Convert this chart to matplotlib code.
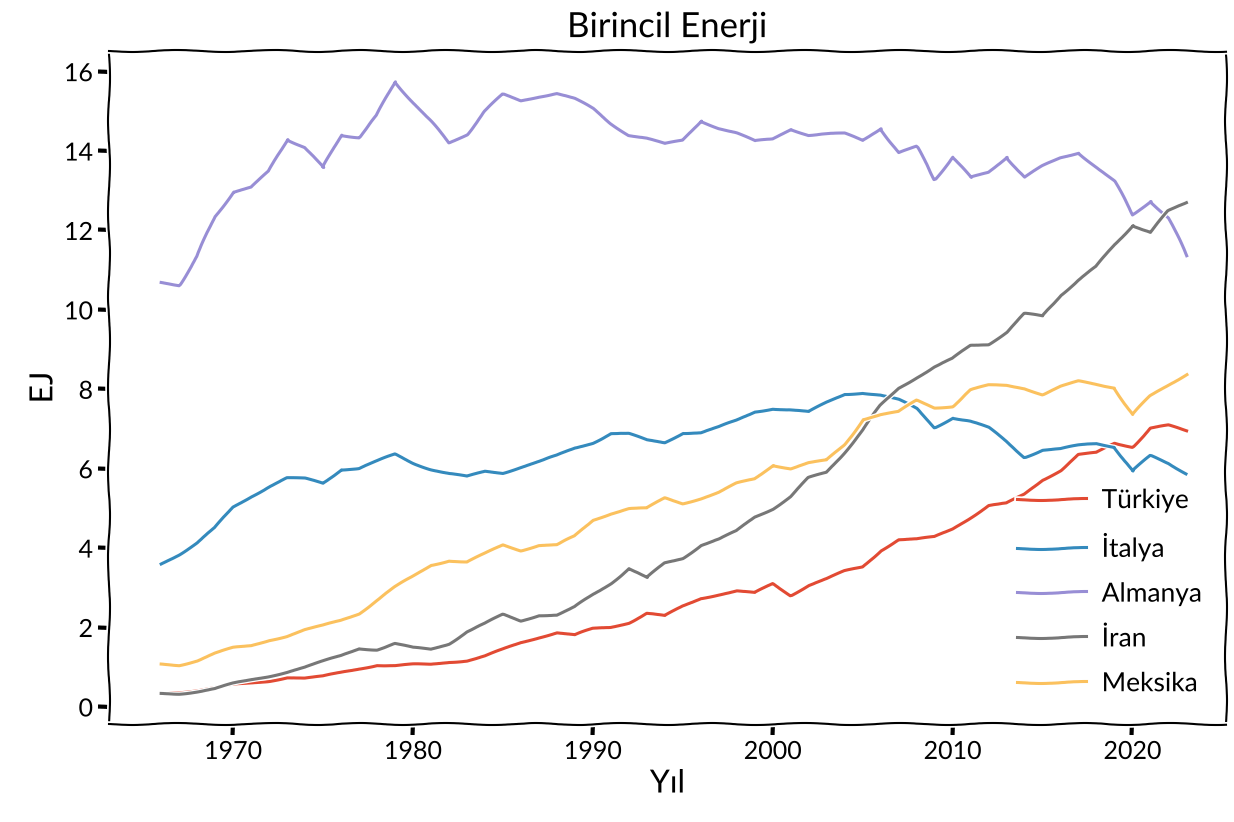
import matplotlib
matplotlib.use("Agg")
import matplotlib.pyplot as plt

# Yillar
yillar = list(range(1966, 2024))

# Birincil enerji tuketimi (EJ)
turkiye = [0.36, 0.38, 0.42, 0.47, 0.55, 0.60, 0.66, 0.75, 0.72, 0.76,
           0.86, 0.97, 1.06, 1.03, 1.06, 1.07, 1.14, 1.17, 1.27, 1.44,
           1.62, 1.76, 1.88, 1.81, 1.96, 2.01, 2.13, 2.36, 2.28, 2.53,
           2.74, 2.84, 2.92, 2.86, 3.10, 2.82, 3.07, 3.22, 3.41, 3.52,
           3.95, 4.22, 4.22, 4.27, 4.48, 4.78, 5.08, 5.12, 5.34, 5.72,
           5.97, 6.35, 6.39, 6.64, 6.56, 7.02, 7.08, 6.94]
italya = [3.60, 3.85, 4.14, 4.50, 5.03, 5.31, 5.55, 5.76, 5.74, 5.63,
          5.99, 6.01, 6.18, 6.36, 6.15, 5.99, 5.87, 5.79, 5.93, 5.90,
          6.05, 6.18, 6.32, 6.52, 6.66, 6.89, 6.87, 6.71, 6.66, 6.91,
          6.91, 7.04, 7.21, 7.44, 7.52, 7.48, 7.42, 7.66, 7.88, 7.92,
          7.86, 7.73, 7.50, 7.04, 7.29, 7.19, 7.02, 6.68, 6.30, 6.47,
          6.49, 6.58, 6.64, 6.56, 5.93, 6.32, 6.14, 5.89]
almanya = [10.69, 10.63, 11.34, 12.35, 12.98, 13.09, 13.48, 14.30, 14.10, 13.57,
           14.41, 14.35, 14.89, 15.75, 15.24, 14.73, 14.21, 14.43, 15.00, 15.42,
           15.27, 15.38, 15.46, 15.31, 15.06, 14.70, 14.41, 14.32, 14.17, 14.26,
           14.77, 14.58, 14.45, 14.24, 14.30, 14.56, 14.41, 14.43, 14.43, 14.26,
           14.58, 13.96, 14.10, 13.29, 13.85, 13.32, 13.46, 13.86, 13.34, 13.61,
           13.82, 13.96, 13.61, 13.23, 12.39, 12.75, 12.31, 11.36]
iran = [0.34, 0.34, 0.39, 0.45, 0.58, 0.68, 0.78, 0.89, 1.00, 1.14,
        1.28, 1.48, 1.45, 1.59, 1.48, 1.45, 1.60, 1.90, 2.09, 2.32,
        2.17, 2.32, 2.32, 2.51, 2.82, 3.12, 3.49, 3.24, 3.62, 3.75,
        4.08, 4.22, 4.42, 4.79, 5.00, 5.30, 5.76, 5.90, 6.43, 6.98,
        7.58, 8.03, 8.31, 8.56, 8.76, 9.10, 9.14, 9.45, 9.90, 9.83,
        10.38, 10.76, 11.08, 11.64, 12.14, 11.95, 12.48, 12.70]
meksika = [1.08, 1.06, 1.17, 1.34, 1.48, 1.54, 1.69, 1.79, 1.94, 2.04,
           2.17, 2.36, 2.70, 3.01, 3.28, 3.58, 3.69, 3.64, 3.85, 4.08,
           3.95, 4.08, 4.08, 4.29, 4.71, 4.88, 4.99, 4.99, 5.26, 5.13,
           5.26, 5.40, 5.62, 5.74, 6.10, 6.01, 6.14, 6.20, 6.60, 7.25,
           7.36, 7.42, 7.72, 7.54, 7.58, 7.98, 8.09, 8.09, 8.03, 7.88,
           8.07, 8.19, 8.11, 8.05, 7.36, 7.82, 8.11, 8.39]

ulkeler = ["Türkiye", "İtalya", "Almanya", "İran", "Meksika"]
seriler = [turkiye, italya, almanya, iran, meksika]
renkler = ["#E24A33", "#348ABD", "#988ED5", "#777777", "#FBC15E"]

# === xkcd tarzi grafik ===
plt.xkcd()
plt.rcParams["font.family"] = ["Lato", "DejaVu Sans"]

fig = plt.figure(figsize=(12.34, 8.22), dpi=100)
ax = fig.add_axes([109 / 1234, 98 / 822, 1117 / 1234, 673 / 822])

for ulke, seri, renk in zip(ulkeler, seriler, renkler):
    ax.plot(yillar, seri, color=renk, linewidth=2.2, label=ulke)

ax.set_xlim(1963.1, 2025.2)
ax.set_ylim(-0.43, 16.52)
ax.set_yticks(range(0, 17, 2))
ax.tick_params(labelsize=18, width=3, length=8)

ax.set_title("Birincil Enerji", fontsize=25, pad=10)
ax.set_xlabel("Yıl", fontsize=23)
ax.set_ylabel("EJ", fontsize=23)

ax.legend(loc="lower right", frameon=False, fontsize=19,
          handlelength=2.6, handletextpad=0.6, labelspacing=0.75,
          bbox_to_anchor=(1.0, 0.006))

plt.savefig("out.png", dpi=100)
